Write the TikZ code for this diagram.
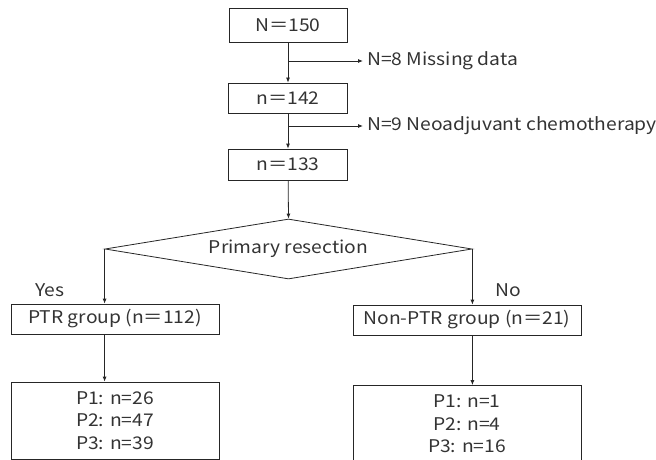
\documentclass[tikz,border=0pt]{standalone}
\usepackage{fontspec}
\setmainfont[FakeStretch=1.1]{Noto Sans CJK JP}
\usetikzlibrary{shapes.geometric,arrows.meta}
\begin{document}
\begin{tikzpicture}[x=1pt,y=-1pt,
  every node/.style={font=\fontsize{17.5}{22.5}\selectfont, text=black!80},
  box/.style={draw=black!85, line width=0.8pt, inner sep=0pt},
  lbl/.style={inner sep=0pt},
  conn/.style={draw=black!85, line width=0.8pt, -{Latex[length=5pt,width=4pt]}}]
\useasboundingbox (0,0) rectangle (656,460);
\node[box, minimum width=118pt, minimum height=34pt] (b150) at (288,25) {N＝150};
\node[box, minimum width=119pt, minimum height=30pt] (b142) at (288,98) {n＝142};
\node[box, minimum width=119pt, minimum height=31pt] (b133) at (288,164.5) {n＝133};
\node[box, shape=diamond, aspect=6.12, minimum width=367pt, minimum height=60pt] (dia) at (288.5,249) {Primary resection};
\node[box, minimum width=208pt, minimum height=30pt] (ptr) at (115,319) {PTR group (n＝112)};
\node[box, minimum width=228pt, minimum height=30pt] (nptr) at (467,320) {Non-PTR group (n＝21)};
\node[box, minimum width=208pt, minimum height=77pt, align=center] (p1) at (115,420.5) {P1: n=26\\P2: n=47\\P3: n=39};
\node[box, minimum width=228pt, minimum height=77pt, align=center] (p2) at (467,424) {P1: n=1\\P2: n=4\\P3: n=16};
\node[lbl, anchor=west] (t1) at (367,61) {N=8 Missing data};
\node[lbl, anchor=west] (t2) at (367,126) {N=9 Neoadjuvant chemotherapy};
\node[lbl] (yes) at (50,290) {Yes};
\node[lbl] (no) at (508,290) {No};
\coordinate (m1) at (288,61);
\coordinate (m2) at (288,126);
\draw[conn] (b150) -- (b142);
\draw[conn] (b142) -- (b133);
\draw[conn] (m1) -- ([xshift=-4pt]t1.west);
\draw[conn] (m2) -- ([xshift=-4pt]t2.west);
\draw[conn] (b133) -- (dia.north);
\draw[conn] (dia.west) -- (dia.west |- ptr.north);
\draw[conn] (dia.east) -- (dia.east |- nptr.north);
\draw[conn] (dia.west |- ptr.south) -- (dia.west |- p1.north);
\draw[conn] (dia.east |- nptr.south) -- (dia.east |- p2.north);
\end{tikzpicture}
\end{document}
